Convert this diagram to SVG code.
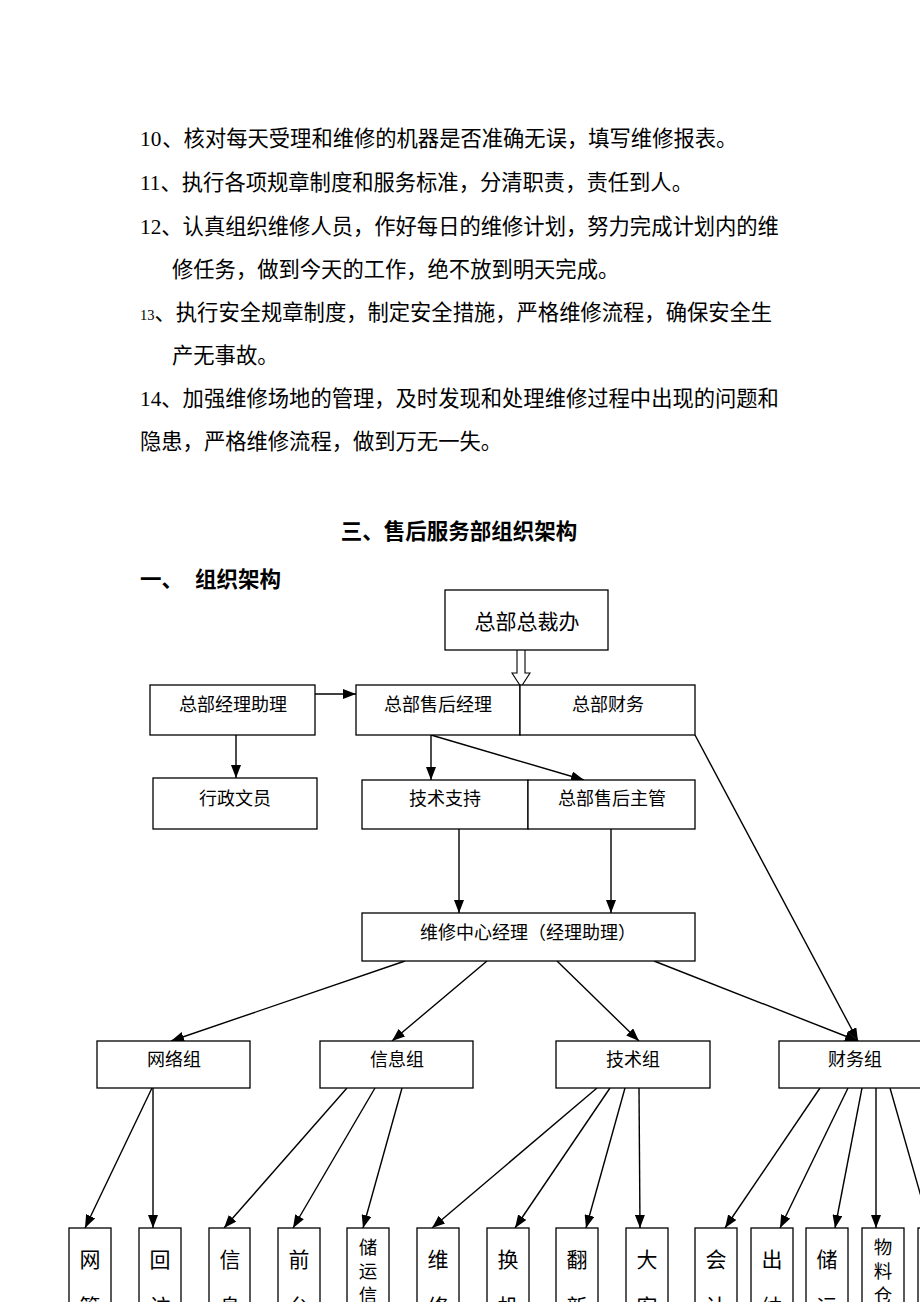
<svg xmlns="http://www.w3.org/2000/svg" width="920" height="1302" viewBox="0 0 920 1302">
<style>
.p{font-family:"Liberation Serif","Noto Sans CJK SC",serif;font-size:21.3px;fill:#000}
.h{font-family:"Liberation Serif","Noto Sans CJK SC",sans-serif;font-size:21.5px;font-weight:bold;fill:#000}
.bx{fill:#fff;stroke:#000;stroke-width:1.3}
.t{font-family:"Noto Sans CJK SC",sans-serif;font-size:18px;fill:#000;text-anchor:middle;dominant-baseline:central}
.v{font-family:"Noto Sans CJK SC",sans-serif;font-size:21px;fill:#000;text-anchor:middle;dominant-baseline:central}
.vs{font-family:"Noto Sans CJK SC",sans-serif;font-size:18.5px;fill:#000;text-anchor:middle;dominant-baseline:central}
.c{stroke:#000;stroke-width:1.4;fill:none;marker-end:url(#ah)}
</style>
<defs>
<marker id="ah" markerUnits="userSpaceOnUse" markerWidth="13" markerHeight="10" viewBox="0 0 13 10" refX="13" refY="5" orient="auto">
<path d="M0,0 L13,5 L0,10 z" fill="#000"/>
</marker>
</defs>
<rect width="920" height="1302" fill="#fff"/>
<g id="text-body">
<text class="p" x="140" y="146">10<tspan dx="1">、核对每天受理和维修的机器是否准确无误，填写维修报表。</tspan></text>
<text class="p" x="140" y="190">11、执行各项规章制度和服务标准，分清职责，责任到人。</text>
<text class="p" x="140" y="234">12、认真组织维修人员，作好每日的维修计划，努力完成计划内的维</text>
<text class="p" x="172" y="277">修任务，做到今天的工作，绝不放到明天完成。</text>
<text class="p" x="140" y="320"><tspan font-size="14.5px">13</tspan>、执行安全规章制度，制定安全措施，严格维修流程，确保安全生</text>
<text class="p" x="172" y="363">产无事故。</text>
<text class="p" x="140" y="406">14、加强维修场地的管理，及时发现和处理维修过程中出现的问题和</text>
<text class="p" x="140" y="449">隐患，严格维修流程，做到万无一失。</text>
<text class="h" x="459" y="539" text-anchor="middle">三、售后服务部组织架构</text>
<text class="h" x="140" y="587">一、</text>
<text class="h" x="195" y="587">组织架构</text>
</g>
<g id="connectors">
<line class="c" x1="315" y1="694" x2="356" y2="694"/>
<line class="c" x1="236" y1="735" x2="236" y2="778"/>
<line class="c" x1="431" y1="735" x2="431" y2="780"/>
<line class="c" x1="431" y1="735" x2="584" y2="780"/>
<line class="c" x1="695" y1="735" x2="858" y2="1041"/>
<line class="c" x1="459" y1="829" x2="459" y2="913"/>
<line class="c" x1="611" y1="829" x2="611" y2="913"/>
<line class="c" x1="405" y1="961" x2="171" y2="1041"/>
<line class="c" x1="487" y1="961" x2="392" y2="1041"/>
<line class="c" x1="557" y1="961" x2="639" y2="1041"/>
<line class="c" x1="654" y1="961" x2="858" y2="1041"/>
<line class="c" x1="152" y1="1088" x2="85" y2="1228"/>
<line class="c" x1="153" y1="1088" x2="153" y2="1228"/>
<line class="c" x1="347" y1="1088" x2="224" y2="1228"/>
<line class="c" x1="375" y1="1088" x2="293" y2="1228"/>
<line class="c" x1="402" y1="1088" x2="363" y2="1228"/>
<line class="c" x1="597" y1="1088" x2="432" y2="1228"/>
<line class="c" x1="610" y1="1088" x2="515" y2="1228"/>
<line class="c" x1="625" y1="1088" x2="586" y2="1228"/>
<line class="c" x1="639" y1="1088" x2="640" y2="1228"/>
<line class="c" x1="820" y1="1088" x2="725" y2="1228"/>
<line class="c" x1="848" y1="1088" x2="780" y2="1228"/>
<line class="c" x1="862" y1="1088" x2="835" y2="1228"/>
<line class="c" x1="876" y1="1088" x2="876" y2="1228"/>
<line class="c" x1="890" y1="1088" x2="930" y2="1228"/>
<path d="M517,650 V673 H512 L521,687 L530,673 H525 V650" fill="#fff" stroke="#000" stroke-width="1.1"/>
</g>
<g id="n-zongcaiban"><rect class="bx" x="445" y="590" width="163" height="60"/><text class="t" x="527" y="620" style="font-size:21px">总部总裁办</text></g>
<g id="n-jinglizhuli"><rect class="bx" x="150" y="685" width="165" height="50"/><text class="t" x="233" y="703">总部经理助理</text></g>
<g id="n-shouhoujingli"><rect class="bx" x="356" y="685" width="164" height="50"/><text class="t" x="438" y="703">总部售后经理</text></g>
<g id="n-caiwu"><rect class="bx" x="520" y="685" width="175" height="50"/><text class="t" x="608" y="703">总部财务</text></g>
<g id="n-xingzheng"><rect class="bx" x="153" y="778" width="164" height="51"/><text class="t" x="235" y="797">行政文员</text></g>
<g id="n-jishuzhichi"><rect class="bx" x="362" y="780" width="166" height="49"/><text class="t" x="445" y="797">技术支持</text></g>
<g id="n-shouhouzhuguan"><rect class="bx" x="528" y="780" width="167" height="49"/><text class="t" x="612" y="797">总部售后主管</text></g>
<g id="n-weixiuzhongxin"><rect class="bx" x="362" y="913" width="333" height="48"/><text class="t" x="528" y="931">维修中心经理（经理助理）</text></g>
<g id="n-wangluo"><rect class="bx" x="97" y="1041" width="153" height="47"/><text class="t" x="174" y="1058">网络组</text></g>
<g id="n-xinxi"><rect class="bx" x="320" y="1041" width="153" height="47"/><text class="t" x="397" y="1058">信息组</text></g>
<g id="n-jishu"><rect class="bx" x="556" y="1041" width="154" height="47"/><text class="t" x="633" y="1058">技术组</text></g>
<g id="n-caiwuzu"><rect class="bx" x="779" y="1041" width="153" height="47"/><text class="t" x="855" y="1058">财务组</text></g>
<g id="n-b1"><rect class="bx" x="69" y="1228" width="42" height="100"/><text class="v" x="90" y="1258">网</text><text class="v" x="90" y="1305">管</text></g>
<g id="n-b2"><rect class="bx" x="139" y="1228" width="42" height="100"/><text class="v" x="160" y="1258">回</text><text class="v" x="160" y="1305">访</text></g>
<g id="n-b3"><rect class="bx" x="209" y="1228" width="41" height="100"/><text class="v" x="230" y="1258">信</text><text class="v" x="230" y="1305">息</text></g>
<g id="n-b4"><rect class="bx" x="278" y="1228" width="42" height="100"/><text class="v" x="299" y="1258">前</text><text class="v" x="299" y="1305">台</text></g>
<g id="n-b5"><rect class="bx" x="347" y="1228" width="42" height="100"/><text class="vs" x="368" y="1246">储</text><text class="vs" x="368" y="1270">运</text><text class="vs" x="368" y="1294">信</text></g>
<g id="n-b6"><rect class="bx" x="417" y="1228" width="42" height="100"/><text class="v" x="438" y="1258">维</text><text class="v" x="438" y="1305">修</text></g>
<g id="n-b7"><rect class="bx" x="487" y="1228" width="42" height="100"/><text class="v" x="508" y="1258">换</text><text class="v" x="508" y="1305">机</text></g>
<g id="n-b8"><rect class="bx" x="556" y="1228" width="42" height="100"/><text class="v" x="577" y="1258">翻</text><text class="v" x="577" y="1305">新</text></g>
<g id="n-b9"><rect class="bx" x="626" y="1228" width="42" height="100"/><text class="v" x="647" y="1258">大</text><text class="v" x="647" y="1305">客</text></g>
<g id="n-b10"><rect class="bx" x="695" y="1228" width="42" height="100"/><text class="v" x="716" y="1258">会</text><text class="v" x="716" y="1305">计</text></g>
<g id="n-b11"><rect class="bx" x="751" y="1228" width="42" height="100"/><text class="v" x="772" y="1258">出</text><text class="v" x="772" y="1305">纳</text></g>
<g id="n-b12"><rect class="bx" x="806" y="1228" width="42" height="100"/><text class="v" x="827" y="1258">储</text><text class="v" x="827" y="1305">运</text></g>
<g id="n-b13"><rect class="bx" x="862" y="1228" width="42" height="100"/><text class="vs" x="883" y="1246">物</text><text class="vs" x="883" y="1270">料</text><text class="vs" x="883" y="1294">仓</text></g>
<g id="n-b14"><rect class="bx" x="918" y="1228" width="42" height="100"/></g>
</svg>
